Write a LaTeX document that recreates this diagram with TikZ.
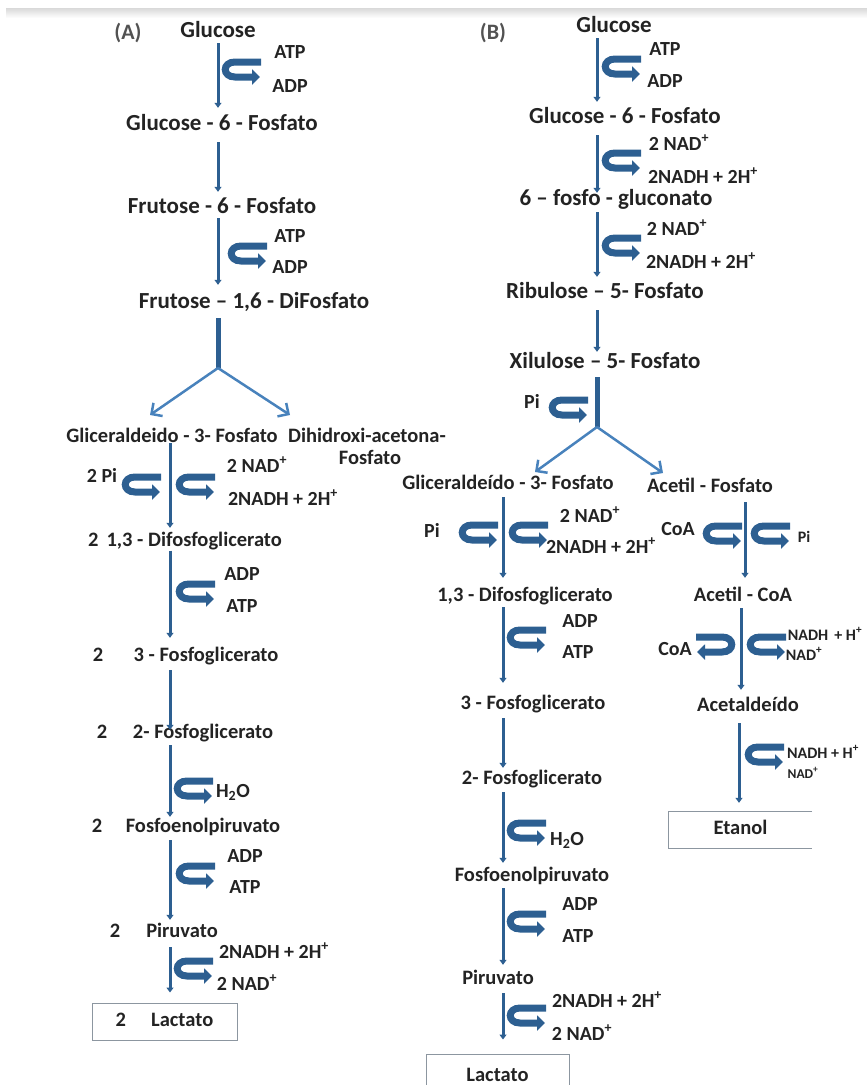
\documentclass[tikz,border=0pt]{standalone}
\usepackage{fontspec}
\setmainfont{Carlito}
\usetikzlibrary{arrows.meta,calc}
\definecolor{arr}{RGB}{45,95,145}
\definecolor{arrl}{RGB}{72,130,188}
\definecolor{txt}{RGB}{35,35,35}
\definecolor{boxc}{RGB}{140,150,160}
\tikzset{
  base/.style={inner sep=0pt, text=txt, text height=14pt, text depth=4pt},
  big/.style={base, font=\bfseries\fontsize{23}{25}\selectfont},
  mid/.style={base, font=\bfseries\fontsize{20.5}{22}\selectfont, text height=13pt, text depth=4pt},
  side/.style={base, font=\bfseries\fontsize{20}{22}\selectfont},
  small/.style={base, font=\bfseries\fontsize{16}{18}\selectfont},
  tiny/.style={base, font=\bfseries\fontsize{13.5}{15}\selectfont},
  tag/.style={base, font=\bfseries\fontsize{22}{24}\selectfont, text=black!68},
  flow/.style={draw=arr, line width=3pt, -{Triangle[length=5pt,width=7pt]}},
  stem/.style={draw=arr, line width=5pt},
  branch/.style={draw=arrl, line width=2.5pt, -{Straight Barb[length=8pt,width=16pt]}},
  hook/.pic={\draw[draw=arr, line width=7pt, -{Triangle[length=8pt,width=15pt]}] (38,-8) -- (12,-8) .. controls (-1,-8) and (-1,7) .. (12,7) -- (37,7);},
  endbox/.style={mid, draw=boxc, line width=1pt},
}
\begin{document}
\begin{tikzpicture}[x=1pt,y=-1pt]
\useasboundingbox (0,0) rectangle (867,1085);
\shade[top color=black!15, bottom color=white] (6,8) rectangle (867,18);

% axes
\coordinate (xa) at (218,0);
\coordinate (xa2) at (170,0);
\coordinate (xb) at (597,0);
\coordinate (xb2) at (503,0);
\coordinate (xr1) at (745,0);
\coordinate (xr2) at (741,0);
\coordinate (xr3) at (739,0);
\coordinate (forkA) at (218,368);
\coordinate (tipAL) at (150,415);
\coordinate (tipAR) at (290,415);
\coordinate (forkB) at (597,427);
\coordinate (tipBL) at (535,472);
\coordinate (tipBR) at (663,473);

% ---------------- panel A
\node[tag] (tA) at (128,34) {(A)};
\node[big] (glcA) at (218,32) {Glucose};
\node[big] (g6pA) at (222,125) {Glucose - 6 - Fosfato};
\node[big] (f6pA) at (222,208) {Frutose - 6 - Fosfato};
\node[big] (fbpA) at (254,303) {Frutose -- 1,6 - DiFosfato};
\node[mid] (gapA) at (172,438) {Gliceraldeido - 3- Fosfato};
\node[mid] (dhA) at (367,438) {Dihidroxi-acetona-};
\node[mid] (dhA2) at (370,460) {Fosfato};
\node[mid] (bpgA) at (185,542) {2\hspace{8pt}1,3 - Difosfoglicerato};
\node[mid] (n3A) at (98,657) {2};
\node[mid] (pg3A) at (206,657) {3 - Fosfoglicerato};
\node[mid] (n2A) at (102,734) {2};
\node[mid] (pg2A) at (203,734) {2- Fosfoglicerato};
\node[mid] (nPA) at (97,828) {2};
\node[mid] (pepA) at (203,828) {Fosfoenolpiruvato};
\node[mid] (nYA) at (115,933) {2};
\node[mid] (pyrA) at (182,933) {Piruvato};
\node[endbox, minimum width=145pt, minimum height=37pt] (lacA) at (164.5,1021.5) {2\hspace{25pt}Lactato};

\node[side] (a1) at (290,53) {ATP};
\node[side] (a2) at (290,87) {ADP};
\node[side] (a3) at (290,237) {ATP};
\node[side] (a4) at (290,268) {ADP};
\node[side] (a5) at (102,477) {2 Pi};
\node[side] (a6) at (257,467) {2 NAD\textsuperscript{+}};
\node[side] (a7) at (283,500) {2NADH + 2H\textsuperscript{+}};
\node[side] (a8) at (242,575) {ADP};
\node[side] (a9) at (242,607) {ATP};
\node[side] (a10) at (233,792) {H\textsubscript{2}O};
\node[side] (a11) at (245,857) {ADP};
\node[side] (a12) at (245,888) {ATP};
\node[side] (a13) at (274,953) {2NADH + 2H\textsuperscript{+}};
\node[side] (a14) at (247,985) {2 NAD\textsuperscript{+}};

\draw[flow, shorten <=2pt, shorten >=8pt] (glcA.south -| xa) -- (g6pA.north -| xa);
\draw[flow, shorten <=8pt, shorten >=7pt] (g6pA.south -| xa) -- (f6pA.north -| xa);
\draw[flow, shorten <=1pt, shorten >=9pt] (f6pA.south -| xa) -- (fbpA.north -| xa);
\draw[stem, shorten <=6pt] (fbpA.south -| xa) -- (forkA);
\draw[branch] (forkA) -- (tipAL);
\draw[branch] (forkA) -- (tipAR);
\draw[flow, shorten <=-3.5pt, shorten >=5.5pt] (gapA.south -| xa2) -- (bpgA.north -| xa2);
\draw[flow, shorten <=0pt, shorten >=10.5pt] (bpgA.south -| xa2) -- (pg3A.north -| xa2);
\draw[flow, shorten <=4.5pt, shorten >=-4.5pt] (pg3A.south -| xa2) -- (pg2A.north -| xa2);
\draw[flow, shorten <=2.5pt, shorten >=2.5pt] (pg2A.south -| xa2) -- (pepA.north -| xa2);
\draw[flow, shorten <=3.5pt, shorten >=4.5pt] (pepA.south -| xa2) -- (pyrA.north -| xa2);
\draw[flow, shorten <=5.5pt, shorten >=10pt] (pyrA.south -| xa2) -- (lacA.north -| xa2);

\pic at (223,70) {hook};
\pic at (229,254) {hook};
\pic at (123,485) {hook};
\pic at (177,485) {hook};
\pic at (177,592) {hook};
\pic at (175,789) {hook};
\pic at (177,874) {hook};
\pic at (175,969) {hook};

% ---------------- panel B
\node[tag] (tB) at (493,34) {(B)};
\node[big] (glcB) at (614,27) {Glucose};
\node[big] (g6pB) at (625,118) {Glucose - 6 - Fosfato};
\node[big] (pgnB) at (616,200) {6 -- fosfo - gluconato};
\node[big] (ru5B) at (605,293) {Ribulose -- 5- Fosfato};
\node[big] (xu5B) at (605,363) {Xilulose -- 5- Fosfato};
\node[mid] (gapB) at (508,485) {Gliceraldeído - 3- Fosfato};
\node[mid] (acpB) at (710,488) {Acetil - Fosfato};
\node[mid] (bpgB) at (525,597) {1,3 - Difosfoglicerato};
\node[mid] (acoB) at (743,597) {Acetil - CoA};
\node[mid] (pg3B) at (533,705) {3 - Fosfoglicerato};
\node[mid] (aldB) at (748,707) {Acetaldeído};
\node[mid] (pg2B) at (532,780) {2- Fosfoglicerato};
\node[mid] (pepB) at (532,877) {Fosfoenolpiruvato};
\node[mid] (pyrB) at (498,980) {Piruvato};
\node[endbox, minimum width=143pt, minimum height=45pt] (lacB) at (497.5,1076.5) {Lactato};
\node[mid, minimum width=143pt, minimum height=36pt] (etaB) at (740.5,830) {Etanol};
\draw[boxc, line width=1pt] (etaB.north east) -- (etaB.north west) -- (etaB.south west) -- (etaB.south east);

\node[side] (b1) at (665,50) {ATP};
\node[side] (b2) at (665,82) {ADP};
\node[side] (b3) at (679,145) {2 NAD\textsuperscript{+}};
\node[side] (b4) at (703,178) {2NADH + 2H\textsuperscript{+}};
\node[side] (b5) at (677,230) {2 NAD\textsuperscript{+}};
\node[side] (b6) at (701,263) {2NADH + 2H\textsuperscript{+}};
\node[side] (b7) at (532,403) {Pi};
\node[side] (b8) at (432,532) {Pi};
\node[side] (b9) at (590,517) {2 NAD\textsuperscript{+}};
\node[side] (b10) at (601,548) {2NADH + 2H\textsuperscript{+}};
\node[side] (b11) at (580,622) {ADP};
\node[side] (b12) at (578,653) {ATP};
\node[side] (b13) at (567,840) {H\textsubscript{2}O};
\node[side] (b14) at (580,905) {ADP};
\node[side] (b15) at (578,937) {ATP};
\node[side] (b16) at (607,1002) {2NADH + 2H\textsuperscript{+}};
\node[side] (b17) at (582,1035) {2 NAD\textsuperscript{+}};
\node[side] (c1) at (678,530) {CoA};
\node[small] (c2) at (804,537) {Pi};
\node[side] (c3) at (675,650) {CoA};
\node[small] (c4) at (825,635) {NADH\hspace{6pt}+ H\textsuperscript{+}};
\node[small] (c5) at (804,655) {NAD\textsuperscript{+}};
\node[small] (c6) at (823,753) {NADH + H\textsuperscript{+}};
\node[tiny] (c7) at (803,773) {NAD\textsuperscript{+}};

\draw[flow, shorten <=2pt, shorten >=7pt] (glcB.south -| xb) -- (g6pB.north -| xb);
\draw[flow, shorten <=8pt, shorten >=-2pt] (g6pB.south -| xb) -- (pgnB.north -| xb);
\draw[flow, shorten <=3pt, shorten >=7pt] (pgnB.south -| xb) -- (ru5B.north -| xb);
\draw[flow, shorten <=8pt, shorten >=2pt] (ru5B.south -| xb) -- (xu5B.north -| xb);
\draw[stem, shorten <=5pt] (xu5B.south -| xb) -- (forkB);
\draw[branch] (forkB) -- (tipBL);
\draw[branch] (forkB) -- (tipBR);
\draw[flow, shorten <=3.5pt, shorten >=10.5pt] (gapB.south -| xb2) -- (bpgB.north -| xb2);
\draw[flow, shorten <=1.5pt, shorten >=13.5pt] (bpgB.south -| xb2) -- (pg3B.north -| xb2);
\draw[flow, shorten <=4.5pt, shorten >=3.5pt] (pg3B.south -| xb2) -- (pg2B.north -| xb2);
\draw[flow, shorten <=3.5pt, shorten >=5.5pt] (pg2B.south -| xb2) -- (pepB.north -| xb2);
\draw[flow, shorten <=2.5pt, shorten >=6.5pt] (pepB.south -| xb2) -- (pyrB.north -| xb2);
\draw[flow, shorten <=4.5pt, shorten >=14pt] (pyrB.south -| xb2) -- (lacB.north -| xb2);
\draw[flow, shorten <=5.5pt, shorten >=10.5pt] (acpB.south -| xr1) -- (acoB.north -| xr1);
\draw[flow, shorten <=2.5pt, shorten >=8.5pt] (acoB.south -| xr2) -- (aldB.north -| xr2);
\draw[flow, shorten <=7.5pt, shorten >=9pt] (aldB.south -| xr3) -- (etaB.north -| xr3);

\pic at (603,67) {hook};
\pic at (603,161) {hook};
\pic at (603,246) {hook};
\pic at (550,408) {hook};
\pic at (460,533) {hook};
\pic at (510,533) {hook};
\pic at (508,638) {hook};
\pic at (508,831) {hook};
\pic at (508,922) {hook};
\pic at (508,1016) {hook};
\pic at (704,534) {hook};
\pic at (752,534) {hook};
\pic[xscale=-1] at (734,645) {hook};
\pic at (748,645) {hook};
\pic at (746,755) {hook};
\end{tikzpicture}
\end{document}
